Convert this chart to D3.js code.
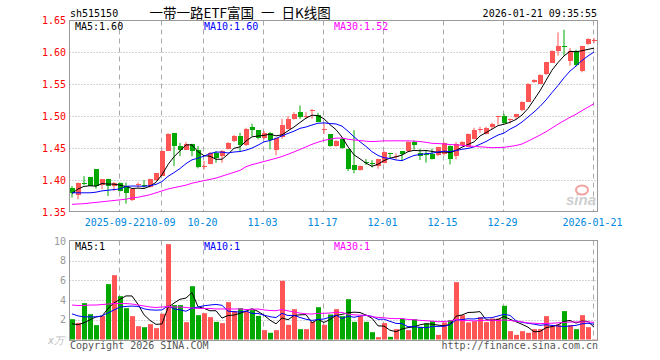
<!DOCTYPE html>
<html><head><meta charset="utf-8">
<script src="https://cdn.jsdelivr.net/npm/d3@7"></script>
<style>body{margin:0;background:#fff}svg{display:block}</style>
</head><body>
<svg id="c" width="660" height="360"></svg>
<script>
const symbol = "sh515150";
const title = "一带一路ETF富国 一 日K线图";
const timestamp = "2026-01-21 09:35:55";

const open = [1.388,1.3766,1.3958,1.404,1.4166,1.392,1.401,1.3906,1.3948,1.3906,
1.3683,1.3925,1.3925,1.388,1.400,1.4062,1.4462,1.4738,1.453,1.4478,
1.4566,1.4462,1.421,1.426,1.4415,1.437,1.4488,1.4608,1.4686,1.454,
1.4826,1.4774,1.466,1.4738,1.4468,1.466,1.48,1.4956,1.5065,1.4987,
1.508,1.5023,1.478,1.4712,1.453,1.4644,1.4478,1.4234,1.415,1.4285,
1.426,1.4218,1.426,1.4415,1.437,1.4452,1.4452,1.4592,1.4426,1.4402,
1.441,1.4384,1.44,1.453,1.4374,1.454,1.452,1.4644,1.4785,1.4722,
1.4816,1.499,1.4997,1.4942,1.4987,1.5086,1.5231,1.5543,1.5506,1.5647,
1.5839,1.6026,1.6094,1.5855,1.6021,1.5714,1.613,1.6179];
const high = [1.3906,1.396,1.406,1.405,1.4166,1.401,1.402,1.397,1.396,1.396,
1.3855,1.396,1.400,1.402,1.4104,1.4462,1.4732,1.4738,1.458,1.4592,
1.4566,1.453,1.4296,1.4436,1.4452,1.4468,1.4592,1.4702,1.4738,1.4816,
1.488,1.4774,1.4764,1.4748,1.466,1.4956,1.4997,1.506,1.5164,1.506,
1.511,1.5049,1.488,1.4712,1.4623,1.466,1.4488,1.4779,1.4229,1.4327,
1.431,1.4332,1.4452,1.4426,1.4416,1.4452,1.4608,1.4623,1.4488,1.4452,
1.4488,1.4519,1.4592,1.454,1.4592,1.4608,1.4727,1.4816,1.4831,1.4831,
1.4894,1.4997,1.5034,1.4961,1.5034,1.5231,1.5512,1.5574,1.5652,1.5844,
1.6026,1.6306,1.6348,1.6062,1.6036,1.6099,1.6213,1.6218];
const low = [1.3725,1.370,1.392,1.3906,1.3865,1.3855,1.375,1.383,1.382,1.363,
1.367,1.388,1.388,1.388,1.3985,1.4062,1.4462,1.4218,1.4374,1.4468,
1.437,1.4182,1.4166,1.4244,1.427,1.427,1.4478,1.4592,1.445,1.453,
1.4686,1.4634,1.4634,1.4478,1.4384,1.4644,1.479,1.4946,1.4956,1.4956,
1.4956,1.492,1.472,1.452,1.452,1.4488,1.414,1.4104,1.4145,1.4234,
1.4197,1.4176,1.426,1.4332,1.4322,1.4296,1.4436,1.4478,1.4312,1.427,
1.4322,1.4374,1.4384,1.4244,1.4322,1.453,1.4514,1.4634,1.4738,1.4712,
1.479,1.4868,1.4883,1.4883,1.4946,1.5075,1.5226,1.5517,1.5501,1.5642,
1.5834,1.5943,1.5943,1.5787,1.5777,1.5683,1.6114,1.614];
const close = [1.380,1.3948,1.3955,1.3906,1.3906,1.401,1.3906,1.3948,1.383,1.380,
1.3855,1.393,1.392,1.401,1.4104,1.4452,1.4722,1.453,1.4468,1.457,
1.445,1.4192,1.422,1.4426,1.4332,1.445,1.4582,1.4686,1.454,1.479,
1.4774,1.4644,1.4738,1.4634,1.466,1.4852,1.4956,1.5039,1.4987,1.4997,
1.5086,1.492,1.479,1.453,1.4608,1.4504,1.4166,1.4156,1.4218,1.4275,
1.4255,1.4332,1.4436,1.441,1.4375,1.44,1.4592,1.454,1.4374,1.4398,
1.4332,1.4514,1.4571,1.4332,1.4556,1.4592,1.4722,1.4779,1.479,1.4816,
1.4868,1.4997,1.4883,1.4946,1.5034,1.5216,1.5506,1.5569,1.5647,1.5839,
1.6021,1.6099,1.6086,1.601,1.5803,1.6099,1.6208,1.6182];
const volume = [2.06,1.69,3.69,2.57,1.46,2.40,5.62,6.53,4.40,3.18,
2.37,1.35,1.25,1.56,1.15,2.61,9.68,3.49,3.49,1.76,
5.41,2.47,2.67,2.27,1.79,1.66,3.79,2.88,3.18,2.81,
2.98,2.40,0.95,0.68,0.95,5.96,1.49,3.08,1.05,1.05,
1.79,3.28,1.49,2.54,3.08,2.37,4.09,1.79,2.37,1.79,
0.74,0.24,1.66,0.27,1.05,2.10,0.95,2.06,1.29,1.62,
1.86,0.47,1.73,1.96,5.82,2.47,1.73,1.86,2.27,1.76,
2.13,2.13,3.42,0.85,0.47,0.85,0.68,1.05,1.05,2.37,
1.42,1.52,2.88,1.46,1.05,2.47,1.25,0.03];

// moving-average values before a full window exists
const ma5Head = [1.379,1.386,1.390,1.391];
const ma10Head = [1.380,1.380,1.380,1.380,1.381,1.383,1.384,1.385,1.386];
const ma30Head = [1.362,1.3625,1.363,1.364,1.365,1.366,1.367,1.368,1.369,1.370,
1.372,1.373,1.375,1.377,1.380,1.383,1.386,1.388,1.390,1.392,
1.395,1.397,1.399,1.401,1.403,1.406,1.409,1.412,1.415];
const vma5Head = [1.6,1.5,1.7,2.0];
const vma10Head = [2.6,2.4,2.3,2.3,2.3,2.4,2.7,3.0,3.3];
const vma30Head = [3.5,3.45,3.45,3.5,3.5,3.55,3.6,3.65,3.65,3.65,
3.6,3.5,3.4,3.3,3.25,3.3,3.35,3.3,3.3,3.25,
3.2,3.15,3.15,3.15,3.1,3.1,3.1,3.1,3.1];

const priceTicks = [1.35,1.40,1.45,1.50,1.55,1.60,1.65];
const volTicks = [2,4,6,8,10];
const dateTickIdx = [8,15,22,32,42,52,62,72,87];
const dateTickLabels = ["2025-09-22","10-09","10-20","11-03","11-17","12-01","12-15","12-29","2026-01-21"];
const maNames = ["MA5","MA10","MA30"];
const maPeriods = [5,10,30];
const priceMaText = ["1.60","1.60","1.52"];
const volMaText = ["1","1","1"];

const RED="#ff5555", GREEN="#00a800", MACOL=["#000000","#0000ff","#ff00ff"];
const MONO="'DejaVu Sans Mono', monospace";
const svg = d3.select("#c");
const N = close.length;
const idx = d3.range(N);

const L=69.5, R=597.5;
const x = d3.scaleBand().domain(idx).range([L,R]);
const xc = i => x(i)+3;
const y = d3.scaleLinear().domain([1.35,1.65]).range([212,20]);
const yv = d3.scaleLinear().domain([0,10]).range([339.5,241]);
const PT=20.5, PB=211.5, VT=240.5, VB=340.5;

function ma(arr,n,head){return arr.map((_,i)=> i<n-1 ? head[i] : d3.mean(arr.slice(i-n+1,i+1)));}
const heads=[ma5Head,ma10Head,ma30Head], vheads=[vma5Head,vma10Head,vma30Head];
const priceMA = maPeriods.map((n,k)=>ma(close,n,heads[k]));
const volMA = maPeriods.map((n,k)=>ma(volume,n,vheads[k]));
const up = i => close[i] >= open[i];

// grids
const g = svg.append("g");
[[PT,PB],[VT,VB]].forEach(([t,b])=>{
  g.selectAll(null).data(dateTickIdx).enter().append("line")
   .attr("x1",i=>Math.round(xc(i)-2)+0.5).attr("x2",i=>Math.round(xc(i)-2)+0.5)
   .attr("y1",t).attr("y2",b).attr("stroke","#aaa").attr("stroke-dasharray","5,4");
});
g.selectAll(null).data(priceTicks.slice(1,-1)).enter().append("line")
 .attr("x1",L).attr("x2",R).attr("y1",d=>Math.round(y(d))+0.5).attr("y2",d=>Math.round(y(d))+0.5)
 .attr("stroke","#aaa").attr("stroke-dasharray","1,2");
g.selectAll(null).data(volTicks.slice(0,-1)).enter().append("line")
 .attr("x1",L).attr("x2",R).attr("y1",d=>Math.round(yv(d))+0.5).attr("y2",d=>Math.round(yv(d))+0.5)
 .attr("stroke","#aaa").attr("stroke-dasharray","1,2");

// candles
const cg = svg.append("g");
cg.selectAll(null).data(idx).enter().append("line")
 .attr("x1",i=>xc(i)-0.5).attr("x2",i=>xc(i)-0.5)
 .attr("y1",i=>y(high[i])).attr("y2",i=>y(low[i]))
 .attr("stroke",i=>up(i)?RED:GREEN);
cg.selectAll(null).data(idx).enter().append("rect")
 .attr("x",i=>x(i)+0.5).attr("width",5)
 .attr("y",i=>Math.round(y(Math.max(open[i],close[i]))))
 .attr("height",i=>Math.max(1,Math.round(Math.abs(y(open[i])-y(close[i])))))
 .attr("fill",i=>up(i)?RED:GREEN);

// volume bars
svg.append("g").selectAll(null).data(idx).enter().append("rect")
 .attr("x",i=>x(i)+0.5).attr("width",5)
 .attr("y",i=>yv(volume[i])).attr("height",i=>yv(0)-yv(volume[i]))
 .attr("fill",i=>up(i)?RED:GREEN);

// MA lines
const line = d3.line().x(i=>xc(i)-0.5);
priceMA.forEach((arr,k)=>{
  svg.append("path").attr("d",line.y(i=>y(arr[i]))(idx)).attr("fill","none").attr("stroke",MACOL[k]).attr("stroke-width",1);
});
volMA.forEach((arr,k)=>{
  svg.append("path").attr("d",line.y(i=>yv(arr[i]))(idx)).attr("fill","none").attr("stroke",MACOL[k]).attr("stroke-width",1);
});

// frames
[[PT,PB],[VT,VB]].forEach(([t,b])=>{
  svg.append("rect").attr("x",L).attr("y",t).attr("width",R-L).attr("height",b-t)
   .attr("fill","none").attr("stroke","#999");
});

// watermark
const wm = svg.append("g");
wm.append("ellipse").attr("cx",582).attr("cy",190).attr("rx",6).attr("ry",4.5).attr("fill","none").attr("stroke","#f4a0a0").attr("stroke-width",2);
wm.append("text").attr("x",596).attr("y",205).attr("text-anchor","end").attr("font-family","Arial, 'Liberation Sans'")
 .attr("font-weight","bold").attr("font-style","italic").attr("font-size",15).attr("fill","#cfcfcf").text("sina");

// axes labels
const t = (sel)=>sel.attr("font-family",MONO).attr("font-size",10);
svg.append("g").selectAll(null).data(priceTicks).enter().append("text").call(t)
 .attr("x",66).attr("y",d=>y(d)+3.5).attr("text-anchor","end").attr("fill","#ff0000").text(d=>d.toFixed(2));
svg.append("g").selectAll(null).data(volTicks).enter().append("text").call(t)
 .attr("x",66).attr("y",d=>yv(d)+3.5).attr("text-anchor","end").attr("fill","#999").text(d=>d);
svg.append("text").call(t).attr("x",64).attr("y",344).attr("text-anchor","end").attr("fill","#bbb").attr("font-style","italic").text("x万");

// date labels: centred on ticks, a label is pushed left if it would run into the next one
const CW = 6.02;
const lblPos = dateTickIdx.map(i=>xc(i)-2);
for (let j=lblPos.length-2;j>=0;j--){
  const rightEdge = lblPos[j]+dateTickLabels[j].length*CW/2;
  const nextLeft = lblPos[j+1]-dateTickLabels[j+1].length*CW/2;
  if (rightEdge > nextLeft-0.5) lblPos[j] -= rightEdge-(nextLeft-0.5);
}
svg.append("g").selectAll(null).data(dateTickIdx).enter().append("text").call(t)
 .attr("x",(d,j)=>lblPos[j]).attr("y",225.5).attr("text-anchor","middle").attr("fill","#0088dd")
 .text((d,j)=>dateTickLabels[j]);

// legends
const lx=[75,204,334];
maNames.forEach((n,k)=>{
  svg.append("text").call(t).attr("x",lx[k]).attr("y",29.5).attr("fill",MACOL[k]).text(n+":"+priceMaText[k]);
  svg.append("text").call(t).attr("x",lx[k]).attr("y",250).attr("fill",MACOL[k]).text(n+":"+volMaText[k]);
});

// header
svg.append("text").call(t).attr("x",70).attr("y",17).attr("fill","#000").text(symbol);
svg.append("text").attr("x",149.5).attr("y",18).attr("font-family","'Noto Sans CJK SC'").attr("font-size",13.5)
 .attr("word-spacing",4).attr("fill","#000").style("white-space","pre").text(title);
svg.append("text").call(t).attr("x",597).attr("y",17).attr("text-anchor","end").attr("fill","#000").text(timestamp);

// footer
svg.append("text").call(t).attr("x",70).attr("y",349).attr("fill","#555").text("Copyright 2026 SINA.COM");
svg.append("text").call(t).attr("x",598).attr("y",349).attr("text-anchor","end").attr("fill","#555").text("http://finance.sina.com.cn");
</script>
</body></html>
